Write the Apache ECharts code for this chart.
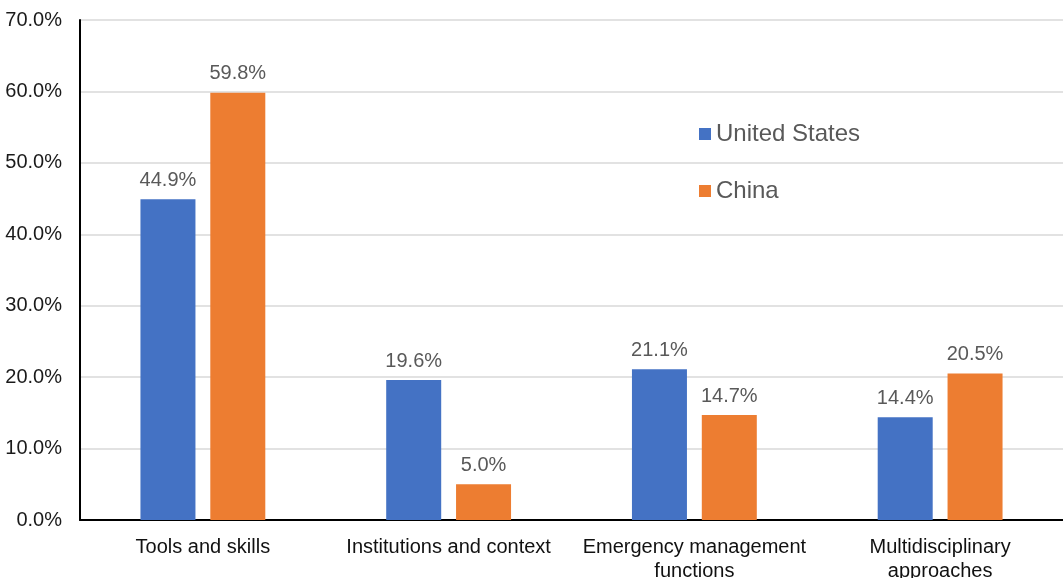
<!DOCTYPE html>
<html><head><meta charset="utf-8">
<script src="https://cdn.jsdelivr.net/npm/echarts@6/dist/echarts.min.js"></script>
<style>html,body{margin:0;padding:0;background:#fff}#c{width:1063px;height:578px}</style>
</head><body><div id="c"></div>
<script>
const categories = ['Tools and skills', 'Institutions and context', 'Emergency management\nfunctions', 'Multidisciplinary\napproaches'];
const usValues = [44.9, 19.6, 21.1, 14.4];
const chinaValues = [59.8, 5.0, 14.7, 20.5];
const seriesNames = ['United States', 'China'];

const chart = echarts.init(document.getElementById('c'));
const font = 'Arial, "Liberation Sans", sans-serif';
const label = {show: true, position: 'top', distance: 9, color: '#595959', fontSize: 20, fontFamily: font, formatter: p => p.value.toFixed(1) + '%'};
chart.setOption({
  animation: false,
  grid: {left: 80, right: 0, top: 20, bottom: 58, outerBoundsMode: 'none', containLabel: false},
  legend: {
    orient: 'vertical', left: 694, top: 117, itemWidth: 12, itemHeight: 12, itemGap: 33,
    icon: 'rect',
    textStyle: {fontSize: 24, color: '#595959', fontFamily: font},
    data: seriesNames
  },
  xAxis: {
    type: 'category', data: categories,
    axisLine: {lineStyle: {color: '#000', width: 2}},
    axisTick: {show: false},
    axisLabel: {fontSize: 20, color: '#111', fontFamily: font, margin: 15, lineHeight: 24, interval: 0}
  },
  yAxis: {
    type: 'value', min: 0, max: 70, interval: 10,
    axisLine: {show: true, lineStyle: {color: '#000', width: 2}},
    splitLine: {lineStyle: {color: '#d9d9d9', width: 1.5}},
    axisLabel: {fontSize: 20, color: '#1a1a1a', fontFamily: font, margin: 18, formatter: v => v.toFixed(1) + '%'}
  },
  series: [
    {name: seriesNames[0], type: 'bar', data: usValues, barWidth: 55, barGap: '27%', itemStyle: {color: '#4472C4'}, label},
    {name: seriesNames[1], type: 'bar', data: chinaValues, barWidth: 55, barGap: '27%', itemStyle: {color: '#ED7D31'}, label}
  ]
});
</script></body></html>
